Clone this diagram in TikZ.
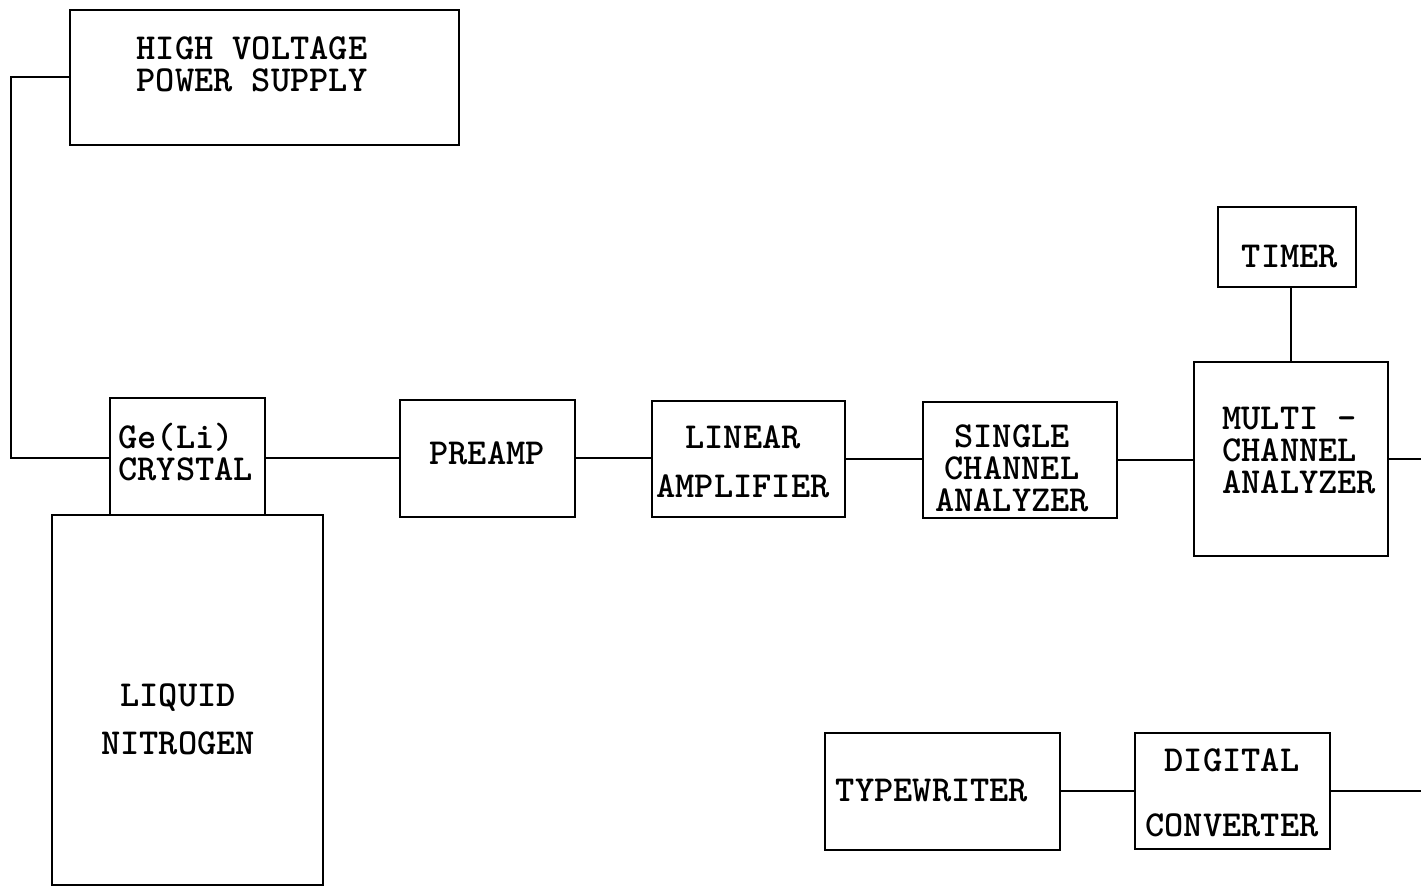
\documentclass[tikz,border=0pt]{standalone}
\usepackage{fontspec}
\usepackage{tikz}
\usetikzlibrary{arrows.meta}

\newcommand{\typed}{\ttfamily\bfseries\fontsize{18.3}{16}\selectfont}

\begin{document}
\begin{tikzpicture}[x=0.5pt,y=-0.5pt]
				\useasboundingbox (0,0) rectangle (1421,887);
				\begin{scope}[every node/.style = {rectangle, draw, line width=1.3pt, inner sep=0pt}]
					\node[minimum width=194.5pt, minimum height=67.5pt] (HV) at (264.5,77.5) {};
					\node[minimum width=77.5pt, minimum height=58.5pt] (GeLi) at (187.5,456.5) {};
					\node[minimum width=135.5pt, minimum height=185pt] (LN) at (187.5,700) {};
					\node[minimum width=87.5pt, minimum height=58.5pt] (PRE) at (487.5,458.5) {};
					\node[minimum width=96.5pt, minimum height=58pt] (LIN) at (748.5,459) {};
					\node[minimum width=97pt, minimum height=58pt] (SCA) at (1020,460) {};
					\node[minimum width=97pt, minimum height=97pt] (MCA) at (1291,459) {};
					\node[minimum width=69pt, minimum height=40pt] (TIM) at (1287,247) {};
					\node[minimum width=117.5pt, minimum height=58.5pt] (TYP) at (942.5,791.5) {};
					\node[minimum width=97.5pt, minimum height=58pt] (DC) at (1232.5,791) {};
				\end{scope}
				\begin{scope}[every node/.style = {font=\typed, inner sep=0pt, align=center}]
					\node (HVtext) at (252,64) {HIGH VOLTAGE\\POWER SUPPLY};
					\node[anchor=west, align=left] (GeLitext) at (118,452) {Ge(Li)\\CRYSTAL};
					\node (LNtext) at (178,719) {LIQUID\\[8pt]NITROGEN};
					\node (PREtext) at (487,453) {PREAMP};
					\node (LINtext) at (743,461.5) {LINEAR\\[8.5pt]AMPLIFIER};
					\node (SCAtext) at (1012,468) {SINGLE\\CHANNEL\\ANALYZER};
					\node[anchor=west, align=left] (MCAtext) at (1222,451) {MULTI -\\CHANNEL\\ANALYZER};
					\node (TIMtext) at (1290,257) {TIMER};
					\node (TYPtext) at (932,791) {TYPEWRITER};
					\node (DCtext) at (1232,792.5) {DIGITAL\\[16.5pt]CONVERTER};
				\end{scope}
					\coordinate (R) at (1421,0);
				\begin{scope}[every edge/.style={draw=black, line width=1pt}]
					\draw [line width=1pt] (HV.west) -- ++(-58,0) |- (GeLi.west |- PRE.west);
					\path [-] (GeLi.east |- PRE.west) edge (PRE.west);
					\path [-] (PRE.east) edge (LIN.west |- PRE.east);
					\path [-] (LIN.east) edge (SCA.west |- LIN.east);
					\path [-] (SCA.east) edge (MCA.west |- SCA.east);
					\path [-] (MCA.north |- TIM.south) edge (MCA.north);
					\path [-] (MCA.east) edge (MCA.east -| R);
					\path [-] (TYP.east) edge (DC.west |- TYP.east);
					\path [-] (DC.east) edge (DC.east -| R);
				\end{scope}
			\end{tikzpicture}
\end{document}
